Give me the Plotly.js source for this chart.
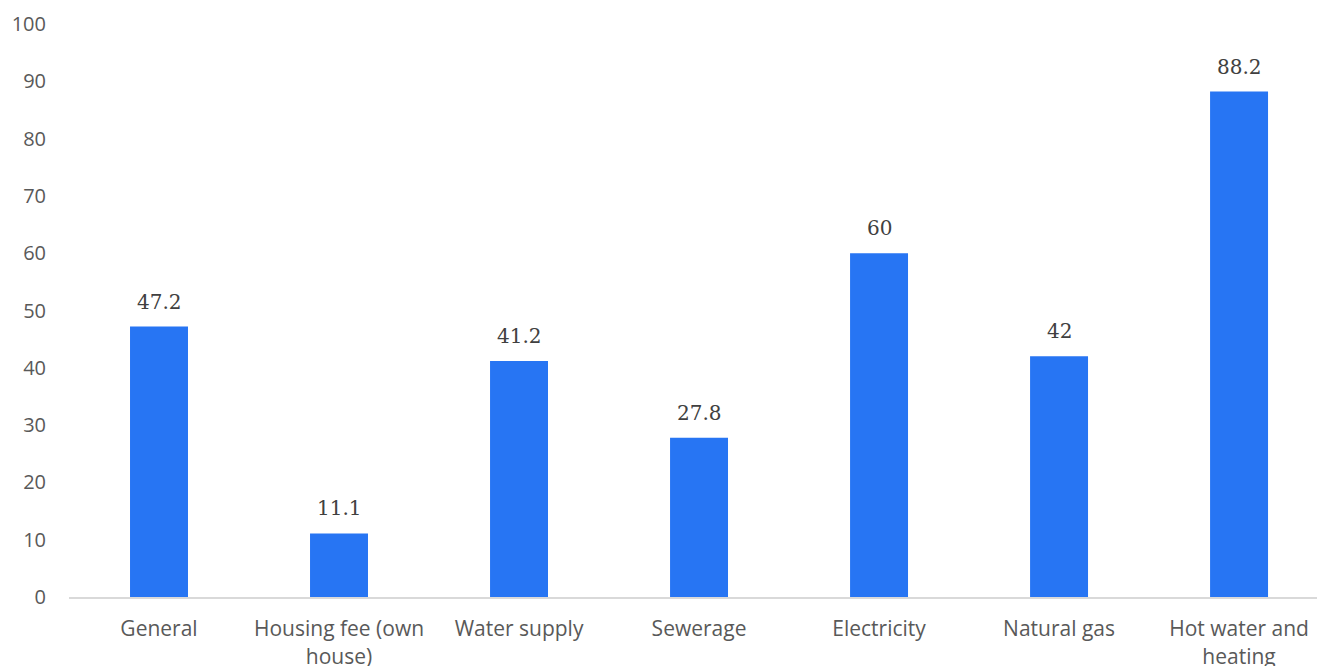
<!DOCTYPE html>
<html><head><meta charset="utf-8">
<script src="https://cdn.plot.ly/plotly-3.0.1.min.js"></script>
<style>html,body{margin:0;padding:0;background:#fff}#chart{width:1317px;height:666px}</style>
</head><body><div id="chart"></div>
<script>
var categories = ["General", "Housing fee (own house)", "Water supply", "Sewerage", "Electricity", "Natural gas", "Hot water and heating"];
var tickLabels = ["General", "Housing fee (own<br>house)", "Water supply", "Sewerage", "Electricity", "Natural gas", "Hot water and<br>heating"];
var values = [47.2, 11.1, 41.2, 27.8, 60, 42, 88.2];
var valueLabels = ["47.2", "11.1", "41.2", "27.8", "60", "42", "88.2"];

var trace = {
  type: "bar", x: categories, y: values,
  marker: {color: "#2775F3"},
  hoverinfo: "x+y"
};
var annotations = categories.map(function(c, i){
  return {x: c, y: values[i], xref: "x", yref: "y", text: valueLabels[i], showarrow: false,
    yanchor: "bottom", yshift: 11, font: {family: "DejaVu Serif, serif", size: 20, color: "#404040"}};
});
var layout = {
  width: 1317, height: 666,
  margin: {l: 69, r: 0, t: 24, b: 69},
  paper_bgcolor: "#fff", plot_bgcolor: "#fff",
  showlegend: false,
  bargap: 0.678,
  font: {family: "Open Sans, sans-serif", size: 21, color: "#595959"},
  xaxis: {tickvals: categories, ticktext: tickLabels, range: [-0.5, 6.433], showgrid: false, showline: true, linecolor: "#D9D9D9", linewidth: 2, ticks: "", zeroline: false, ticklabelstandoff: 12, fixedrange: true},
  yaxis: {range: [0, 100], dtick: 10, showgrid: false, zeroline: false, showline: false, ticks: "", ticklabelstandoff: 22, tickfont: {size: 20}, fixedrange: true},
  annotations: annotations
};
Plotly.newPlot("chart", [trace], layout, {displayModeBar: false});
</script></body></html>
